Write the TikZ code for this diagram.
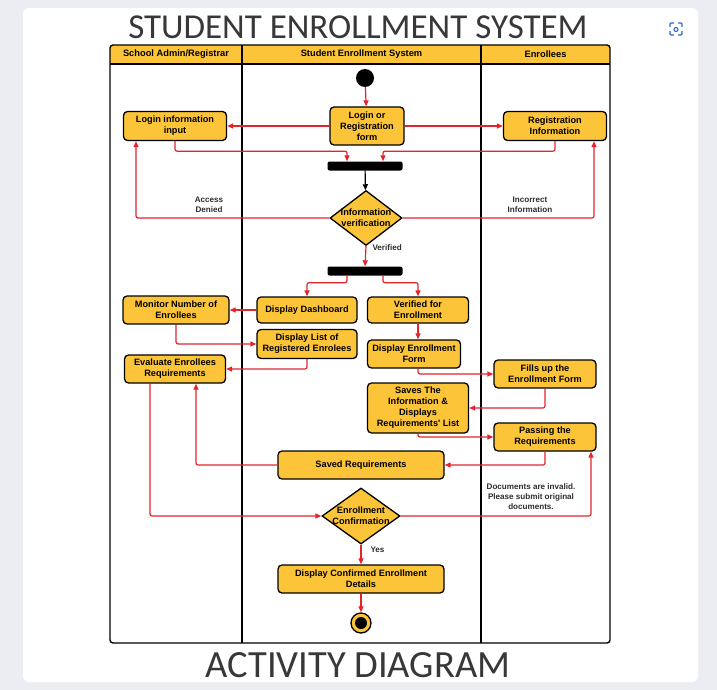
\documentclass[tikz,border=0pt]{standalone}
\usepackage{fontspec}
\usepackage{tikz}
\usetikzlibrary{shapes.geometric,arrows.meta}
\newfontfamily\boxfont{Liberation Sans}
\newfontfamily\titlefont{Carlito}
\definecolor{laneyellow}{RGB}{252,196,56}
\definecolor{flowred}{RGB}{226,36,44}
\definecolor{pagegray}{RGB}{235,237,242}
\definecolor{iconblue}{RGB}{45,110,200}
\definecolor{inkgray}{RGB}{45,45,45}

\tikzset{
  activity/.style={draw=black, line width=1.3pt, fill=laneyellow, rounded corners=4pt,
    font=\boxfont\bfseries\fontsize{9.2}{11}\selectfont, align=center, inner sep=1pt},
  boxtext/.style={font=\boxfont\bfseries\fontsize{9.2}{11}\selectfont, align=center, inner sep=0pt},
  decision/.style={diamond, draw=black, line width=1.3pt, fill=laneyellow, inner sep=0pt},
  forkbar/.style={fill=black, rounded corners=2pt, minimum width=75, minimum height=9, inner sep=0pt},
  flow/.style={draw=flowred, line width=1.2pt, rounded corners=2pt, -{Triangle[length=6pt,width=5pt]}},
  guard/.style={font=\boxfont\bfseries\fontsize{8.1}{10}\selectfont, text=inkgray, align=center},
  lanehead/.style={font=\boxfont\bfseries\fontsize{9.3}{11}\selectfont},
  headline/.style={text=black!78}
}

\begin{document}
\begin{tikzpicture}[x=1pt, y=-1pt]
  \useasboundingbox (0,0) rectangle (717,690);
  % page and card
  \fill[pagegray] (0,0) rectangle (717,690);
  \fill[white, rounded corners=6pt] (23,8) rectangle (698,682);
  \fill[white] (676,29) circle (14);
  \foreach \sx/\sy in {-1/-1,1/-1,1/1,-1/1}
    \draw[iconblue, line width=1.1pt, rounded corners=1pt]
      (676+6*\sx,29+2*\sy) -- (676+6*\sx,29+6*\sy) -- (676+2*\sx,29+6*\sy);
  \draw[iconblue, line width=1.1pt] (676,29.5) circle (2);

  % titles
  \node[headline, font=\titlefont\fontsize{35}{40}\selectfont] (title) at (358,27) {STUDENT ENROLLMENT SYSTEM};
  \node[headline, font=\titlefont\fontsize{38.5}{42}\selectfont] (subtitle) at (358,665) {ACTIVITY DIAGRAM};

  % swimlanes
  \fill[laneyellow] (110,45) rectangle (610,64);
  \draw[line width=1.4pt, rounded corners=3pt] (110,45) rectangle (610,643);
  \draw[line width=1.4pt] (110,64) -- (610,64) (242,45) -- (242,643) (481,45) -- (481,643);
  \node[lanehead] (adminlane) at (176,54.5) {School Admin/Registrar};
  \node[lanehead] (systemlane) at (361.5,54.5) {Student Enrollment System};
  \node[lanehead] (enrolleelane) at (545.5,54.5) {Enrollees};

  % activities
  \node[circle, fill=black, minimum size=18, inner sep=0pt] (start) at (365,78) {};
  \node[activity, minimum width=74, minimum height=38] (login) at (367,126) {Login or\\Registration\\form};
  \node[activity, minimum width=103, minimum height=29] (logininfo) at (175,126) {Login information\\input};
  \node[activity, minimum width=103, minimum height=29] (reginfo) at (555,126) {Registration\\Information};
  \node[forkbar] (fork1) at (365,166) {};
  \node[decision, minimum width=72, minimum height=55,
    label={[boxtext]center:Information\\verification}] (verify) at (366,218) {};
  \node[forkbar] (fork2) at (365,271) {};
  \node[activity, minimum width=106, minimum height=28] (monitor) at (176,310) {Monitor Number of\\Enrollees};
  \node[activity, minimum width=100, minimum height=26] (dash) at (307,310) {Display Dashboard};
  \node[activity, minimum width=101, minimum height=26] (verified) at (418,310) {Verified for\\Enrollment};
  \node[activity, minimum width=100, minimum height=29] (list) at (307,344) {Display List of\\Registered Enrolees};
  \node[activity, minimum width=101, minimum height=28] (evaluate) at (175,369) {Evaluate Enrollees\\Requirements};
  \node[activity, minimum width=93, minimum height=28] (form) at (414,354) {Display Enrollment\\Form};
  \node[activity, minimum width=102, minimum height=28] (fills) at (545,374) {Fills up the\\Enrollment Form};
  \node[activity, minimum width=101, minimum height=50] (saves) at (418,408) {Saves The\\Information \&\\Displays\\Requirements' List};
  \node[activity, minimum width=102, minimum height=28] (passing) at (545,437) {Passing the\\Requirements};
  \node[activity, minimum width=166, minimum height=28] (saved) at (361,465) {Saved Requirements};
  \node[decision, minimum width=78, minimum height=56,
    label={[boxtext]center:Enrollment\\Confirmation}] (confirm) at (361,516) {};
  \node[activity, minimum width=166, minimum height=28] (done) at (361,579) {Display Confirmed Enrollment\\Details};
  \node[circle, draw=black, line width=1.3pt, fill=laneyellow, minimum size=20, inner sep=0pt,
    path picture={\fill[black] (path picture bounding box.center) circle (6pt);}] (finish) at (361,623) {};

  % guards
  \node[guard] (deniedtext) at (209,205) {Access\\Denied};
  \node[guard] (incorrecttext) at (530,205) {Incorrect\\Information};
  \node[guard, anchor=west] (verifiedtext) at (369,248) {Verified};
  \node[guard] (invalidtext) at (531,497) {Documents are invalid.\\Please submit original\\documents.};
  \node[guard, anchor=west] (yestext) at (367,550) {Yes};

  % flows
  \draw[flow] (start) -- (login);
  \draw[flow] (login) -- (logininfo);
  \draw[flow] (login) -- (reginfo);
  \draw[flow] (logininfo.south) -- ++(0,10) -| ([xshift=-18pt]fork1.north);
  \draw[flow] (reginfo.south) -- ++(0,10) -| ([xshift=18pt]fork1.north);
  \draw[flow, draw=black] (fork1) -- (verify);
  \draw[flow] (verify.west) -| ([xshift=-39pt]logininfo.south);
  \draw[flow] (verify.east) -| ([xshift=39pt]reginfo.south);
  \draw[flow] (verify.south) -- (fork2.north);
  \draw[flow] ([xshift=-18pt]fork2.south) -- ++(0,7) -| (dash.north);
  \draw[flow] ([xshift=18pt]fork2.south) -- ++(0,7) -| (verified.north);
  \draw[flow] (dash) -- (monitor);
  \draw[flow] (monitor.south) |- (list.west);
  \draw[flow] (list.south) |- (evaluate.east);
  \draw[flow] (verified.south) -- (verified.south |- form.north);
  \draw[flow] (verified.south |- form.south) |- (fills.west);
  \draw[flow] (fills.south) |- (saves.east);
  \draw[flow] (saves.south) |- (passing.west);
  \draw[flow] (passing.south) |- (saved.east);
  \draw[flow] (saved.west) -| ([xshift=21pt]evaluate.south);
  \draw[flow] ([xshift=-25pt]evaluate.south) |- (confirm.west);
  \draw[flow] (confirm.east) -| ([xshift=46pt]passing.south);
  \draw[flow] (confirm.south) -- (done.north);
  \draw[flow] (done.south) -- (finish.north);
\end{tikzpicture}
\end{document}
